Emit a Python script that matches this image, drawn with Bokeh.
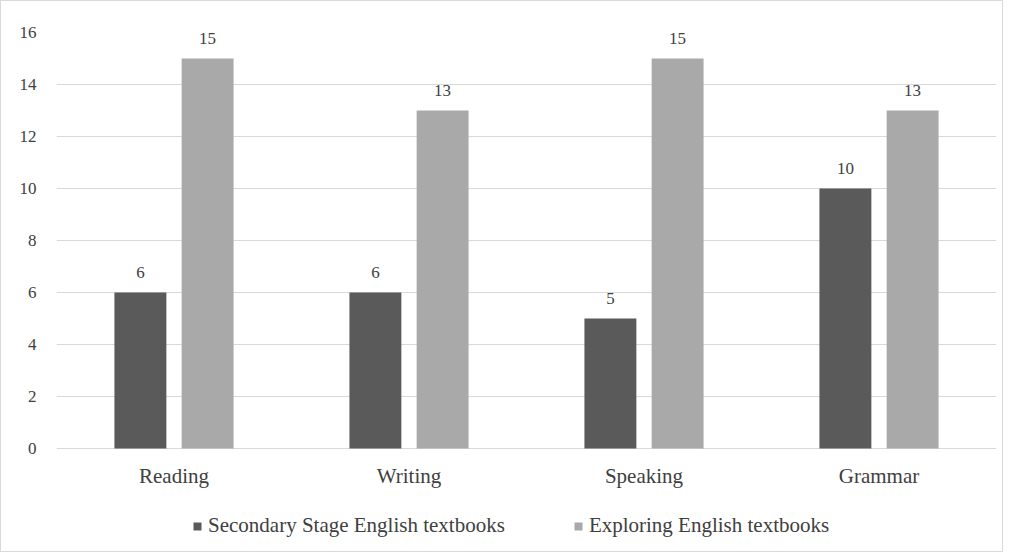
from bokeh.plotting import figure
from bokeh.models import ColumnDataSource, FactorRange, Legend, LegendItem, Range1d, FixedTicker
from bokeh.transform import dodge
from bokeh.core.properties import value
from bokeh.embed import file_html
from bokeh.resources import INLINE

categories = ["Reading", "Writing", "Speaking", "Grammar"]
secondary = [6, 6, 5, 10]
exploring = [15, 13, 15, 13]
series_names = ["Secondary Stage English textbooks", "Exploring English textbooks"]
y_ticks = [0, 2, 4, 6, 8, 10, 12, 14, 16]

FONT = "Liberation Serif"
DARK = "#5a5a5a"
LIGHT = "#a9a9a9"
TXT = "#404040"

src = ColumnDataSource(dict(
    cat=categories,
    sec=secondary,
    exp=exploring,
    sec_txt=[str(v) for v in secondary],
    exp_txt=[str(v) for v in exploring],
))

p = figure(
    x_range=FactorRange(*categories, range_padding=0),
    y_range=Range1d(-4.04, 16),
    width=1003, height=552,
    output_backend="svg", toolbar_location=None,
    min_border_left=55, min_border_right=8, min_border_top=31, min_border_bottom=0,
)
p.styles = {"border": "1px solid #d9d9d9"}
p.outline_line_color = None

r1 = p.vbar(x=dodge("cat", -0.143, range=p.x_range), top="sec", width=0.221,
            source=src, fill_color=DARK, line_color=None)
r2 = p.vbar(x=dodge("cat", 0.143, range=p.x_range), top="exp", width=0.221,
            source=src, fill_color=LIGHT, line_color=None)

p.text(x=dodge("cat", -0.143, range=p.x_range), y="sec", text="sec_txt", source=src,
       text_align="center", text_baseline="bottom", y_offset=-14,
       text_font=value(FONT), text_font_size="17px", text_color=TXT)
p.text(x=dodge("cat", 0.143, range=p.x_range), y="exp", text="exp_txt", source=src,
       text_align="center", text_baseline="bottom", y_offset=-14,
       text_font=value(FONT), text_font_size="17px", text_color=TXT)

p.xgrid.grid_line_color = None
p.ygrid.grid_line_color = "#d9d9d9"
p.ygrid.grid_line_width = 1
p.yaxis.ticker = FixedTicker(ticks=y_ticks)

for ax in (p.xaxis, p.yaxis):
    ax.axis_line_color = None
    ax.major_tick_line_color = None
    ax.minor_tick_line_color = None
    ax.major_label_text_font = FONT
    ax.major_label_text_color = TXT

p.yaxis.major_label_text_font_size = "17px"
p.yaxis.major_label_standoff = 14
p.xaxis.fixed_location = 0
p.xaxis.major_label_text_font_size = "21px"
p.xaxis.major_label_standoff = 10

legend = Legend(
    items=[LegendItem(label=series_names[0], renderers=[r1]),
           LegendItem(label=series_names[1], renderers=[r2])],
    orientation="horizontal", location=(136, 15),
    label_text_font=FONT, label_text_font_size="21px", label_text_color=TXT,
    glyph_width=10, glyph_height=10, spacing=68, label_standoff=6,
    border_line_color=None, background_fill_alpha=0, margin=0, padding=0,
)
p.add_layout(legend)

open("out.html", "w").write(file_html(p, INLINE))
